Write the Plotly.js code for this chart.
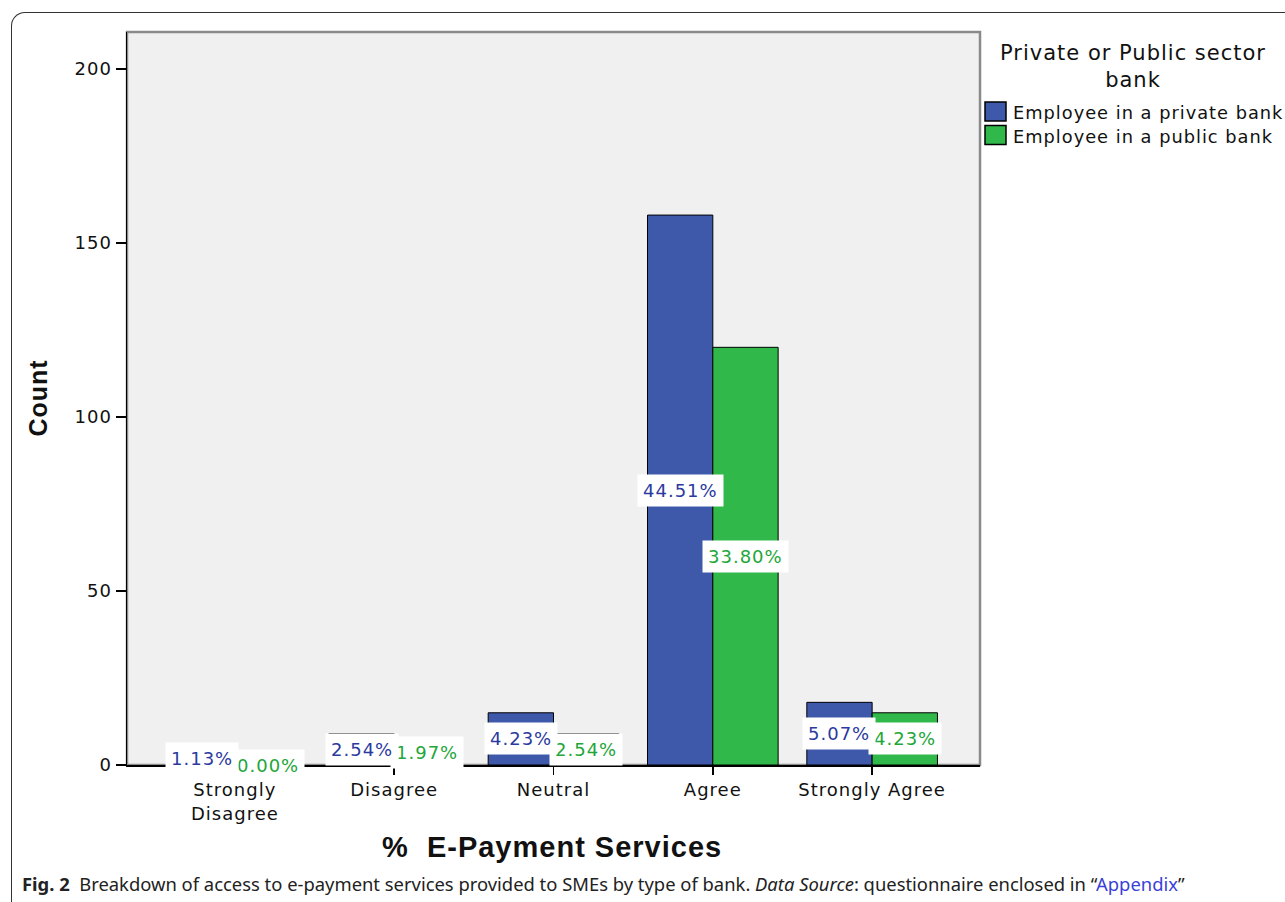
<!DOCTYPE html>
<html><head><meta charset="utf-8">
<script src="https://cdn.plot.ly/plotly-3.0.1.min.js"></script>
<style>
html,body{margin:0;padding:0;background:#fff;}
#wrap{position:relative;width:1285px;height:902px;overflow:hidden;}
#frame{position:absolute;left:11px;top:12px;width:1400px;height:1000px;border-left:1.5px solid #333;border-top:1.5px solid #333;border-top-left-radius:14px;pointer-events:none;}
#chart{position:absolute;left:0;top:0;width:1285px;height:902px;}
svg text{letter-spacing:1px;}
#caption{position:absolute;left:22px;top:871px;font-family:"Noto Sans";font-size:18.4px;color:#222;white-space:nowrap;}
</style></head>
<body>
<div id="wrap">
<div id="chart"></div>
<div id="frame"></div>
<div id="caption"><b>Fig. 2</b>&nbsp; Breakdown of access to e-payment services provided to SMEs by type of bank. <i>Data Source</i>: questionnaire enclosed in “<span style="color:#3a3fd8">Appendix</span>”</div>
</div>
<script>
const categories = ['Strongly<br>Disagree', 'Disagree', 'Neutral', 'Agree', 'Strongly Agree'];
const privateCounts = [4, 9, 15, 158, 18];
const publicCounts = [0, 7, 9, 120, 15];
const privatePct = ['1.13%', '2.54%', '4.23%', '44.51%', '5.07%'];
const publicPct = ['0.00%', '1.97%', '2.54%', '33.80%', '4.23%'];
const seriesNames = ['Employee in a private bank', 'Employee in a public bank'];
const legendTitle = 'Private or Public sector<br>bank';
const yTicks = [0, 50, 100, 150, 200];

const blue = '#3e59aa', green = '#31b84a';
const blueText = '#2b3a9e', greenText = '#22a638';
const F = 'DejaVu Sans';
const bargap = 0.18;

const W = 1285, H = 902, ML = 127, MR = 305, MT = 32, MB = 137;
const PW = W - ML - MR, PH = H - MT - MB;
const px = v => (v - ML) / PW;        // page px -> paper x
const py = v => (H - MB - v) / PH;    // page px -> paper y

const traces = [
  {type:'bar', name:seriesNames[0], x:categories, y:privateCounts,
   marker:{color:blue, line:{color:'#000', width:1}}, hoverinfo:'skip'},
  {type:'bar', name:seriesNames[1], x:categories, y:publicCounts,
   marker:{color:green, line:{color:'#000', width:1}}, hoverinfo:'skip'}
];

const half = (1 - bargap) / 4;
const annotations = [];
categories.forEach((c, i) => {
  annotations.push({xref:'x', yref:'y', x:i + half, y:publicCounts[i] / 2, text:publicPct[i],
    showarrow:false, bgcolor:'#fff', borderpad:5, font:{family:F, size:18, color:greenText}});
});
categories.forEach((c, i) => {
  annotations.push({xref:'x', yref:'y', x:i - half, y:privateCounts[i] / 2, text:privatePct[i],
    showarrow:false, bgcolor:'#fff', borderpad:5, font:{family:F, size:18, color:blueText}});
});
annotations.push({xref:'paper', yref:'paper', x:px(37), y:0.5, xanchor:'center', yanchor:'middle',
  text:'<b>Count</b>', textangle:-90,
  showarrow:false, font:{family:'Liberation Sans', size:25, color:'#111'}});
annotations.push({xref:'paper', yref:'paper', x:px(552), y:py(847), xanchor:'center', yanchor:'middle',
  text:'<b>%  E-Payment Services</b>',
  showarrow:false, font:{family:'Liberation Sans', size:29, color:'#111'}});
annotations.push({xref:'paper', yref:'paper', x:px(1133), y:py(67), xanchor:'center', yanchor:'middle',
  text:legendTitle, align:'center', showarrow:false, font:{family:F, size:21, color:'#111'}});
const shapes = [{type:'rect', xref:'paper', yref:'paper', x0:0, x1:1, y0:0, y1:1, layer:'below',
    line:{color:'#8a8a8a', width:2.5}}];
[blue, green].forEach((col, k) => {
  const top = 102 + 23.5 * k;
  shapes.push({type:'rect', xref:'paper', yref:'paper', x0:px(985), x1:px(1006), y0:py(top + 19), y1:py(top),
    fillcolor:col, line:{color:'#000', width:1.5}});
  annotations.push({xref:'paper', yref:'paper', x:px(1011), y:py(top + 11), xanchor:'left', yanchor:'middle',
    text:seriesNames[k], showarrow:false, font:{family:F, size:17.8, color:'#111'}});
});

const layout = {
  width:W, height:H,
  margin:{l:ML, r:MR, t:MT, b:MB, pad:0, autoexpand:false},
  paper_bgcolor:'rgba(0,0,0,0)', plot_bgcolor:'#f0f0f0',
  barmode:'group', bargap:bargap, bargroupgap:0,
  showlegend:false,
  xaxis:{type:'category', range:[-0.677, 4.677], showline:true, linecolor:'#000', linewidth:1.5,
    ticks:'outside', ticklen:8, tickcolor:'#000', tickwidth:1.5, showgrid:false, zeroline:false,
    tickfont:{family:F, size:18, color:'#111'}, fixedrange:true},
  yaxis:{range:[0, 210.6], tickvals:yTicks, showline:true, linecolor:'#000', linewidth:1.5,
    ticks:'outside', ticklen:10, tickcolor:'#000', tickwidth:1.5, showgrid:false, zeroline:false,
    tickfont:{family:F, size:18, color:'#111'}, fixedrange:true},
  shapes:shapes,
  annotations:annotations
};
Plotly.newPlot('chart', traces, layout, {displayModeBar:false, staticPlot:true});
</script>
</body></html>
